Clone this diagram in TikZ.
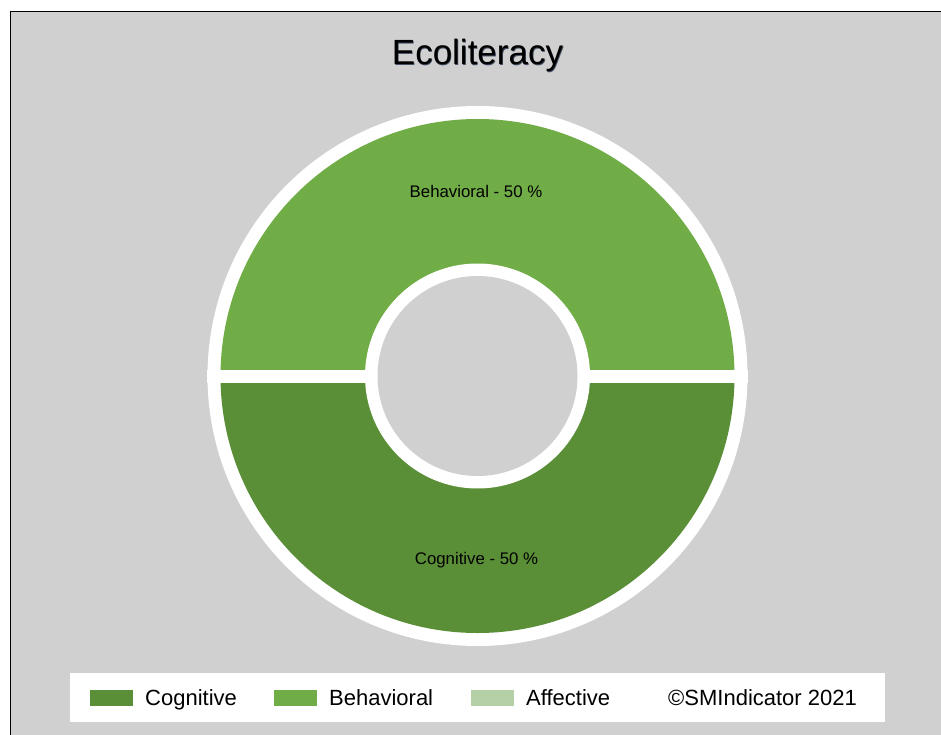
\documentclass[tikz,border=0pt]{standalone}
\usepackage{fontspec}
\setmainfont{Liberation Sans}
\definecolor{bg}{RGB}{208,208,208}
\definecolor{gupper}{RGB}{112,173,71}
\definecolor{glower}{RGB}{90,143,56}
\definecolor{gaff}{RGB}{181,207,166}
\definecolor{tshadow}{RGB}{70,80,100}
\tikzset{
  legtext/.style={anchor=base west,inner sep=0pt,font=\fontsize{22}{26}\selectfont},
  seglabel/.style={anchor=base,inner sep=0pt,font=\fontsize{16.8}{20}\selectfont},
  titletext/.style={anchor=base,inner sep=0pt,font=\fontsize{35}{40}\selectfont},
  swatch/.style={minimum width=43pt,minimum height=16pt,inner sep=0pt,anchor=north west}
}
\begin{document}
\begin{tikzpicture}[x=1pt,y=-1pt]
\useasboundingbox (0,0) rectangle (941,735);
\fill[white] (0,0) rectangle (941,735);
\fill[bg] (10.5,11.5) rectangle (941,735);
\draw[black,line width=1.3pt] (10.5,736) -- (10.5,11.5) -- (942,11.5);
% title with a slight shadow
\node[titletext,text=tshadow] (titleshadow) at (478.2,65.7) {Ecoliteracy};
\node[titletext] (title) at (477.5,65) {Ecoliteracy};
% donut
\coordinate (c) at (477.5,376);
\fill[white] (c) circle (270);
\begin{scope}
  \clip (c) circle (257);
  \fill[gupper] (200,100) rectangle (760,376);
  \fill[glower] (200,376) rectangle (760,650);
\end{scope}
\fill[white] (207,369.5) rectangle (748,382.5);
\fill[white] (c) circle (112.5);
\fill[bg] (c) circle (100);
\node[seglabel] (lbeh) at (476,197.5) {Behavioral - 50 \%};
\node[seglabel] (lcog) at (476.5,564) {Cognitive - 50 \%};
% legend
\fill[white] (70,673) rectangle (885,722);
\node[swatch,fill=glower] (s1) at (90,690) {};
\node[legtext] (t1) at (145,705) {Cognitive};
\node[swatch,fill=gupper] (s2) at (274,690) {};
\node[legtext] (t2) at (329,705) {Behavioral};
\node[swatch,fill=gaff] (s3) at (471,690) {};
\node[legtext] (t3) at (526,705) {Affective};
\node[legtext] (t4) at (668,705) {©SMIndicator 2021};
\end{tikzpicture}
\end{document}
